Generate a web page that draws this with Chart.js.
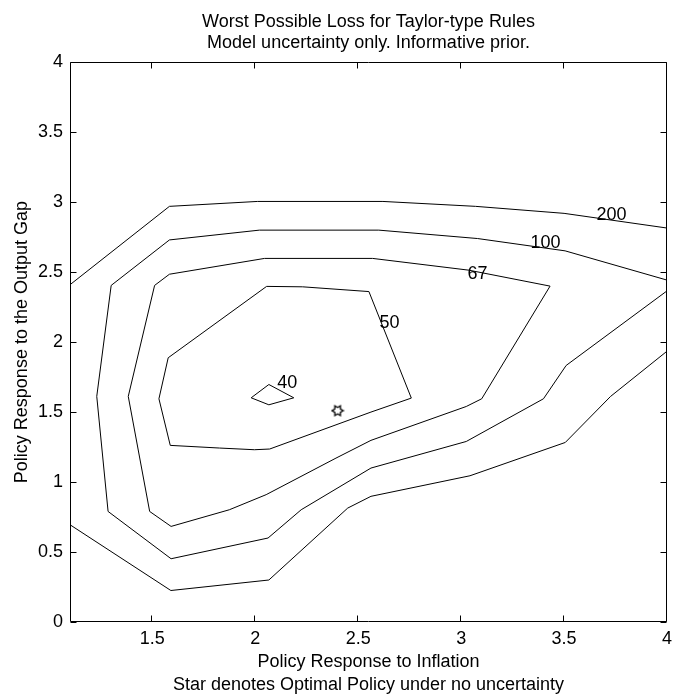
<!DOCTYPE html>
<html>
<head>
<meta charset="utf-8">
<script src="https://cdn.jsdelivr.net/npm/chart.js@4.4.0/dist/chart.umd.min.js"></script>
<style>
	html, body { margin: 0; padding: 0; background: #fff; }
	canvas { display: block; }
</style>
</head>
<body>
<canvas id="lossChart" width="674" height="695"></canvas>
<script>
// contour lines: [inflation response, output gap response]
const loss200a = [[1.1, 2.41], [1.583, 2.97], [2.01, 3.005], [2.62, 3.005], [3.07, 2.97], [3.5, 2.92], [4, 2.815]]
const loss200b = [[1.1, 0.695], [1.59, 0.225], [2.066, 0.3], [2.449, 0.814], [2.562, 0.898], [3.043, 1.045], [3.506, 1.283], [3.726, 1.612], [4, 1.935]]
const loss100 = [[4, 2.443], [3.505, 2.652], [3.08, 2.74], [2.6, 2.8], [2.02, 2.8], [1.583, 2.73], [1.3, 2.405], [1.23, 1.612], [1.285, 0.79], [1.591, 0.452], [2.062, 0.6], [2.223, 0.802], [2.562, 1.1], [3.025, 1.29], [3.4, 1.595], [3.51, 1.833], [4, 2.366]]
const loss67 = [[1.583, 2.485], [2.045, 2.598], [2.57, 2.598], [3.037, 2.514], [3.432, 2.4], [3.1, 1.595], [3.025, 1.54], [2.562, 1.298], [2.392, 1.171], [2.053, 0.91], [1.874, 0.802], [1.591, 0.683], [1.487, 0.79], [1.383, 1.612], [1.511, 2.405], [1.583, 2.485]]
const loss50 = [[1.577, 1.888], [2.055, 2.398], [2.23, 2.395], [2.552, 2.361], [2.758, 1.6], [2.562, 1.5], [2.07, 1.236], [1.996, 1.231], [1.826, 1.243], [1.587, 1.262], [1.532, 1.595], [1.577, 1.888]]
const loss40 = [[1.98, 1.602], [2.066, 1.697], [2.187, 1.602], [2.066, 1.552], [1.98, 1.602]]
const optimum = [[2.4, 1.51]]

const levelText = ['200', '100', '67', '50', '40']
const levelX = [3.73, 3.41, 3.08, 2.652, 2.155]
const levelY = [2.905, 2.708, 2.483, 2.136, 1.704]

const xTicks = [1.5, 2, 2.5, 3, 3.5, 4]
const yTicks = [0, 0.5, 1, 1.5, 2, 2.5, 3, 3.5, 4]

const font = "'Liberation Sans', Arial, Helvetica, sans-serif"
Chart.defaults.font.family = font
Chart.defaults.color = '#000'

let line = pts => ({
	data: pts.map(p => ({ x: p[0], y: p[1] })),
	showLine: true,
	borderColor: '#000',
	borderWidth: 1,
	pointRadius: 0,
	tension: 0,
	fill: false
})

// matlab 'h' marker
let hexagram = () => {
	let c = document.createElement('canvas')
	c.width = 14
	c.height = 14
	let g = c.getContext('2d')
	let R = 5.6, r = R / Math.sqrt(3)
	g.beginPath()
	for (let i = 0; i < 12; i++) {
		let d = i % 2 ? r : R
		let a = i * Math.PI / 6
		let px = 7 + d * Math.cos(a), py = 7 + d * Math.sin(a)
		i ? g.lineTo(px, py) : g.moveTo(px, py)
	}
	g.closePath()
	g.strokeStyle = '#000'
	g.lineWidth = 1.3
	g.stroke()
	return c
}

let frame = {
	id: 'frame',
	afterDatasetsDraw: c => {
		let { ctx, chartArea: a, scales: { x, y } } = c
		ctx.save()
		ctx.fillStyle = '#000'
		ctx.font = '18px ' + font
		ctx.textAlign = 'center'
		ctx.textBaseline = 'middle'
		levelText.forEach((t, i) => {
			ctx.fillText(t, x.getPixelForValue(levelX[i]), y.getPixelForValue(levelY[i]))
		})
		ctx.strokeStyle = '#000'
		ctx.lineWidth = 1
		let L = Math.round(a.left) + .5, R = Math.round(a.right) - .5
		let T = Math.round(a.top) + .5, B = Math.round(a.bottom) - .5
		ctx.beginPath()
		ctx.rect(L, T, R - L, B - T)
		xTicks.forEach(v => {
			let px = Math.round(x.getPixelForValue(v)) - .5
			ctx.moveTo(px, B); ctx.lineTo(px, B - 6)
			ctx.moveTo(px, T); ctx.lineTo(px, T + 6)
		})
		yTicks.forEach(v => {
			let py = Math.round(y.getPixelForValue(v)) + .5
			ctx.moveTo(L, py); ctx.lineTo(L + 6, py)
			ctx.moveTo(R, py); ctx.lineTo(R - 6, py)
		})
		ctx.stroke()
		ctx.restore()
	}
}

let star = line(optimum)
star.showLine = false
star.pointRadius = 6
star.pointStyle = hexagram()

new Chart(document.getElementById('lossChart'), {
	type: 'scatter',
	data: {
		datasets: [line(loss200a), line(loss200b), line(loss100), line(loss67), line(loss50), line(loss40), star]
	},
	options: {
		responsive: false,
		animation: false,
		layout: { padding: { left: 0, right: 4, top: 0, bottom: 0 } },
		plugins: {
			legend: { display: false },
			tooltip: { enabled: false },
			title: {
				display: true,
				fullSize: false,
				text: ['Worst Possible Loss for Taylor-type Rules', 'Model uncertainty only. Informative prior.'],
				color: '#000',
				font: { size: 18, weight: 'normal', lineHeight: 1.2 },
				padding: { top: 11, bottom: 8 }
			}
		},
		scales: {
			x: {
				type: 'linear',
				min: 1.1,
				max: 4,
				afterBuildTicks: s => { s.ticks = xTicks.map(v => ({ value: v })) },
				afterFit: s => {
					s.height = 73
					s.paddingRight = 0
				},
				ticks: { callback: v => String(v), font: { size: 18 }, padding: 6, maxRotation: 0, autoSkip: false },
				grid: { display: false, drawTicks: false },
				border: { display: false },
				title: {
					display: true,
					text: ['Policy Response to Inflation', 'Star denotes Optimal Policy under no uncertainty'],
					font: { size: 18, lineHeight: 1.3 },
					padding: { top: 0, bottom: -2 }
				}
			},
			y: {
				type: 'linear',
				min: 0,
				max: 4,
				afterBuildTicks: s => { s.ticks = yTicks.map(v => ({ value: v })) },
				afterFit: s => { s.width = 70 },
				ticks: { callback: v => String(v), font: { size: 18 }, padding: 7, autoSkip: false },
				grid: { display: false, drawTicks: false },
				border: { display: false },
				title: {
					display: true,
					text: 'Policy Response to the Output Gap',
					font: { size: 18, lineHeight: 1.2 },
					padding: { top: 11, bottom: 0 }
				}
			}
		}
	},
	plugins: [frame]
})
</script>
</body>
</html>
